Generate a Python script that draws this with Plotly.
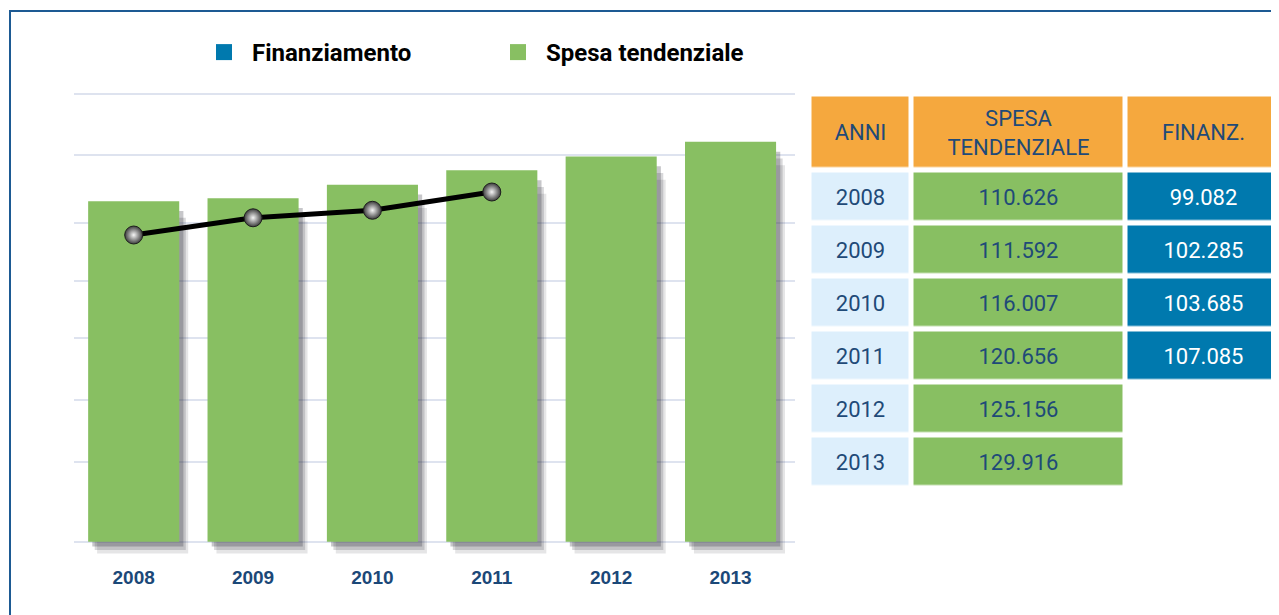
import plotly.graph_objects as go

# ---------------- data ----------------
anni = ["2008", "2009", "2010", "2011", "2012", "2013"]
spesa_tendenziale = [110.626, 111.592, 116.007, 120.656, 125.156, 129.916]
finanziamento = [99.082, 102.285, 103.685, 107.085]
grid_values = [0, 26, 46, 66.2, 84.7, 103.6, 125.6, 145.5]

header_labels = ["ANNI", "SPESA<br>TENDENZIALE", "FINANZ."]
legend_names = ["Finanziamento", "Spesa tendenziale"]

# ---------------- style ----------------
W, H = 1279, 615
OFF = 8  # page body margin
GREEN = "#88BF62"
BLUE = "#0079AE"
ORANGE = "#F5A83E"
LIGHTBLUE = "#DDEFFC"
NAVY = "#1B4878"
TXT = "#1F4A78"
SANS = "Liberation Sans, Arial, sans-serif"
ROBOTO = "Roboto, Liberation Sans, sans-serif"


def px_x(wx):
    return (wx - OFF) / W


def px_y(wy):
    return (H - (wy - OFF)) / H


fig = go.Figure()

# soft shadows behind bars (derived from the same values)
for dx, dy, op in [(0.075, 3.8, 0.12), (0.055, 2.7, 0.18), (0.035, 1.6, 0.26)]:
    fig.add_trace(go.Bar(
        x=anni, y=[v - dy for v in spesa_tendenziale], base=-dy,
        width=0.763, offset=-0.3815 + dx,
        marker=dict(color=f"rgba(40,40,50,{op})", line=dict(width=0)),
        showlegend=False, hoverinfo="skip"))

fig.add_trace(go.Bar(
    x=anni, y=spesa_tendenziale, width=0.763, offset=-0.3815,
    marker=dict(color=GREEN, line=dict(width=0)),
    name=legend_names[1], showlegend=False))

fig.add_trace(go.Scatter(
    x=anni[:len(finanziamento)], y=finanziamento, yaxis="y2",
    mode="lines+markers",
    line=dict(color="#000000", width=5),
    marker=dict(size=18, color="#3c3c3c",
                gradient=dict(type="radial", color="#f6f6f6"),
                line=dict(color="#1e1e1e", width=1)),
    name=legend_names[0], showlegend=False))

# legend entries
for nm, col in [(legend_names[0], BLUE), (legend_names[1], GREEN)]:
    fig.add_trace(go.Scatter(
        x=[None], y=[None], mode="markers", name=nm,
        marker=dict(symbol="square", size=16, color=col, line=dict(width=0))))

# ---------------- table (as a grid of cells) ----------------
col_edges = [0, 102, 316, 472]
row_edges = [0, 76] + [76 + 53 * (i + 1) for i in range(len(anni))]
CS = [[0, LIGHTBLUE], [0.2, LIGHTBLUE], [0.2, GREEN], [0.5, GREEN],
      [0.5, BLUE], [0.8, BLUE], [0.8, ORANGE], [1, ORANGE]]

z_head = [[3, 3, 3]] + [[None] * 3 for _ in anni]
t_head = [header_labels] + [[""] * 3 for _ in anni]
z_body = [[None] * 3] + [[0, 1, None] for _ in anni]
t_body = [[""] * 3] + [[a, f"{v:.3f}", ""] for a, v in zip(anni, spesa_tendenziale)]
z_fin = [[None] * 3] + [[None, None, 2 if i < len(finanziamento) else None]
                        for i in range(len(anni))]
t_fin = [[""] * 3] + [["", "", f"{finanziamento[i]:.3f}" if i < len(finanziamento) else ""]
                      for i in range(len(anni))]

for z, t, fc in [(z_head, t_head, TXT), (z_body, t_body, TXT), (z_fin, t_fin, "white")]:
    fig.add_trace(go.Heatmap(
        x=col_edges, y=row_edges, z=z, text=t, texttemplate="%{text}",
        textfont=dict(family=ROBOTO, size=22, color=fc),
        colorscale=CS, zmin=0, zmax=3, showscale=False,
        xgap=5, ygap=5.5, hoverinfo="skip",
        xaxis="x3", yaxis="y3"))

fig.update_layout(
    width=W, height=H,
    margin=dict(l=0, r=0, t=0, b=0),
    paper_bgcolor="white", plot_bgcolor="rgba(0,0,0,0)",
    barmode="overlay",
    xaxis=dict(domain=[px_x(74), px_x(795)], type="category", range=[-0.5, 5.54],
               showgrid=False, zeroline=False, showline=False,
               ticks="outside", ticklen=6, tickcolor="rgba(0,0,0,0)",
               tickfont=dict(family=SANS, size=19, color=NAVY, weight="bold")),
    yaxis=dict(domain=[px_y(554), px_y(80)], range=[-4, 150],
               tickvals=grid_values, showticklabels=False,
               showgrid=True, gridcolor="#DEE3EF", gridwidth=2,
               zeroline=False, showline=False),
    yaxis2=dict(overlaying="y", range=[39.71, 127.93], visible=False),
    xaxis3=dict(domain=[px_x(809.5), 1.0], range=[0, 477.5], visible=False,
                anchor="y3"),
    yaxis3=dict(domain=[px_y(488.5), px_y(94.5)], range=[row_edges[-1], 0],
                visible=False, anchor="x3"),
    legend=dict(orientation="h", x=px_x(196), y=px_y(30),
                xanchor="left", yanchor="top",
                font=dict(family=ROBOTO, size=24, color="#000000", weight="bold"),
                itemwidth=46, entrywidth=233, bgcolor="rgba(0,0,0,0)"),
    shapes=[dict(type="rect", xref="paper", yref="paper",
                 x0=px_x(10), x1=1.05, y0=-0.05, y1=px_y(11),
                 line=dict(color="#1D5A93", width=2), layer="below")],
    showlegend=True,
)

fig.write_html(
    "out.html",
    post_script="document.documentElement.style.overflow='hidden';"
                "document.body.style.overflow='hidden';")
